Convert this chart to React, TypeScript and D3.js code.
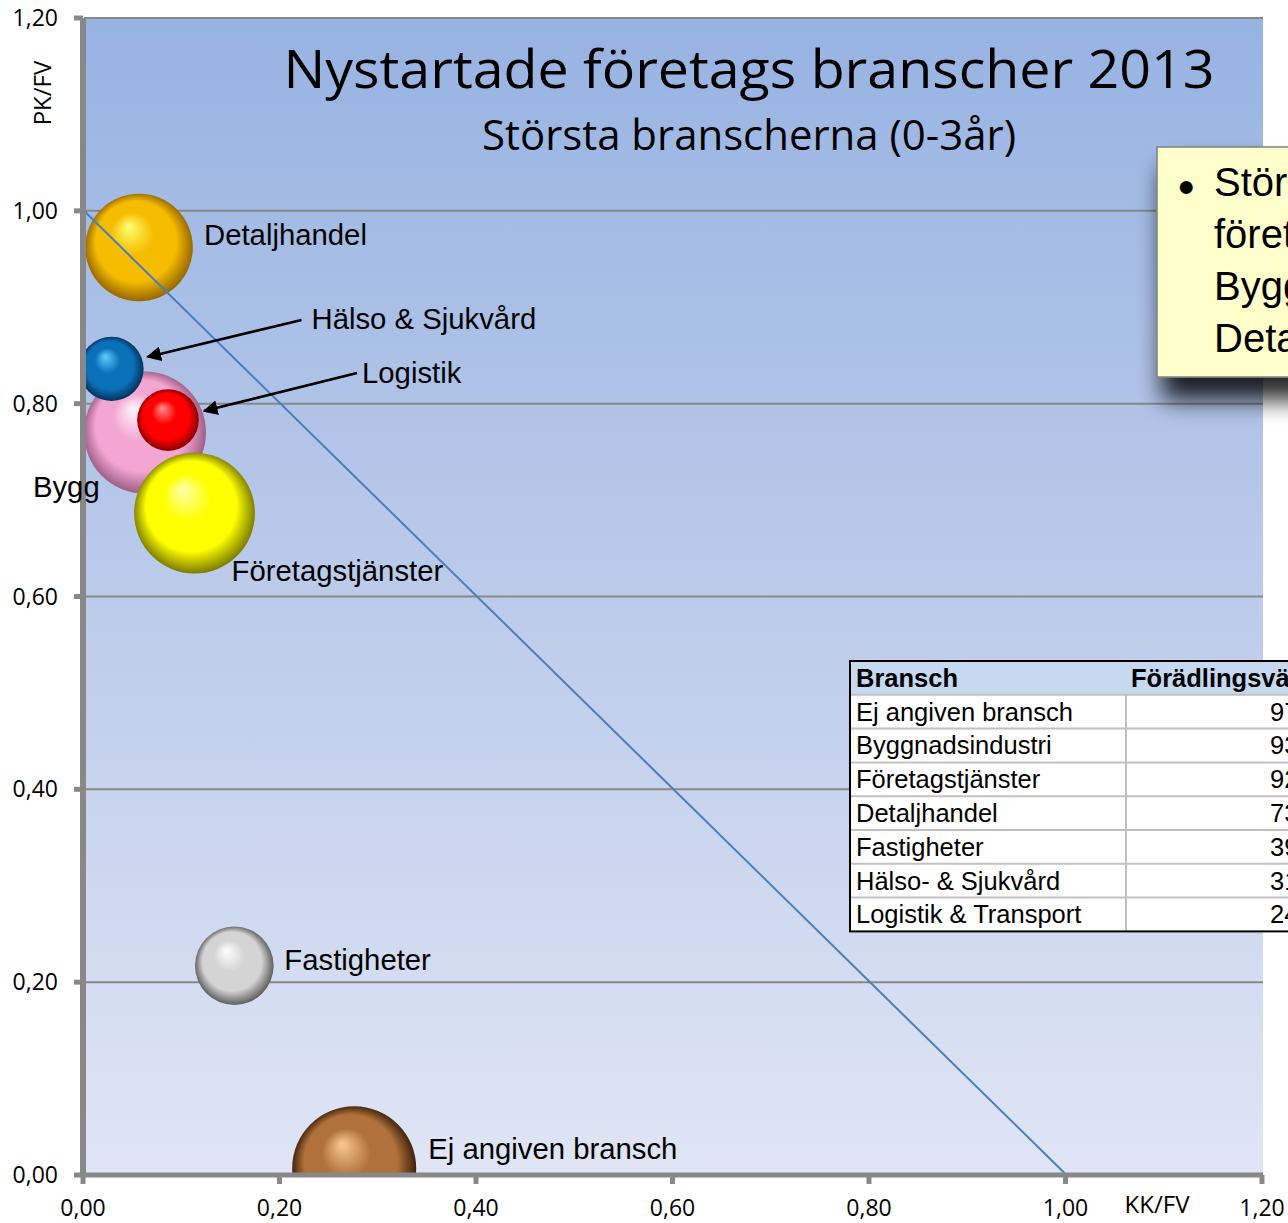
import React from "react";
import * as d3 from "d3";

// ---------- data ----------
const bubbleNames = ["Ej angiven bransch", "Bygg", "Företagstjänster", "Detaljhandel", "Fastigheter", "Hälso & Sjukvård", "Logistik"];
const kkFv = [0.275, 0.062, 0.1125, 0.056, 0.153, 0.028, 0.0855];
const pkFv = [0.007, 0.77, 0.6865, 0.962, 0.217, 0.836, 0.783];
const bubbleSize = [97, 94, 92, 73, 39, 26, 24];
const bubbleColors = [
  ["#fbc995", "#b0723a", "#2e1606"],
  ["#fff4fc", "#f3a6d1", "#94567e"],
  ["#ffffb0", "#ffff00", "#6e6e00"],
  ["#ffff70", "#f6bc00", "#8c5e00"],
  ["#ffffff", "#d4d4d4", "#505050"],
  ["#5ccfff", "#0a70b8", "#022c50"],
  ["#ff9090", "#ff0000", "#7a0000"],
];
// label placement (pixel offsets from bubble centre), arrows
const labelOffsets = [[74, -9], [-112, 64], [37, 68], [65, -2], [50, 4], [200, -40], [194, -37]];
const arrowFrom = [null, null, null, null, null, [190, -49], [189, -47]];
const arrowTo = [null, null, null, null, null, [36, -12], [36, -9]];

const axisTicks = [0, 0.2, 0.4, 0.6, 0.8, 1.0, 1.2];
const refLine = [[0, 1], [1, 0]];

const tableHeader = ["Bransch", "Förädlingsvärde"];
const tableCategories = ["Ej angiven bransch", "Byggnadsindustri", "Företagstjänster", "Detaljhandel", "Fastigheter", "Hälso- & Sjukvård", "Logistik & Transport"];
const tableValues = ["97 245", "93 512", "92 870", "73 516", "39 104", "31 962", "24 388"];

const noteLines = ["Största branscherna bland nystartade", "företag är Företagstjänster,", "Byggnadsindustri och", "Detaljhandel"];

const titleText = "Nystartade företags branscher 2013";
const subtitleText = "Största branscherna (0-3år)";

// ---------- layout ----------
const W = 1288, H = 1223;
const x = d3.scaleLinear().domain([0, 1.2]).range([84, 1263]);
const y = d3.scaleLinear().domain([0, 1.2]).range([1175, 18]);
const r = d3.scaleSqrt().domain([0, 97]).range([0, 62]);
const fmt = (v: number) => d3.format(".2f")(v).replace(".", ",");
const calibri = "'Open Sans', 'Noto Sans', sans-serif";
const arial = "'Liberation Sans', Arial, sans-serif";

export default function App() {
  const order = d3.range(bubbleNames.length).sort((a, b) => bubbleSize[b] - bubbleSize[a]);
  const line = d3.line<number[]>().x((d) => x(d[0])).y((d) => y(d[1]));
  const tblX = 850, tblY = 661, rowH = 33.8, colX = 1126;
  return (
    <svg width={W} height={H} style={{ position: "absolute", left: 0, top: 0, background: "#fff" }}>
      <defs>
        <linearGradient id="bg" x1="0" y1="0" x2="0" y2="1">
          <stop offset="0%" stopColor="#97b3e2" />
          <stop offset="50%" stopColor="#bccbea" />
          <stop offset="100%" stopColor="#dfe5f4" />
        </linearGradient>
        {bubbleColors.map((c, i) => (
          <radialGradient key={i} id={`ball${i}`} cx="0.5" cy="0.5" r="0.52" fx="0.4" fy="0.3">
            <stop offset="0%" stopColor={c[0]} />
            <stop offset="38%" stopColor={c[1]} />
            <stop offset="72%" stopColor={c[1]} />
            <stop offset="100%" stopColor={c[2]} />
          </radialGradient>
        ))}
        <clipPath id="plotClip">
          <rect x={x(0)} y={y(1.2)} width={x(1.2) - x(0)} height={y(0) - y(1.2)} />
        </clipPath>
        <marker id="arrow" viewBox="0 0 10 10" refX="9" refY="5" markerWidth="6" markerHeight="6" orient="auto-start-reverse" markerUnits="strokeWidth">
          <path d="M0,0 L10,5 L0,10 z" fill="#000" />
        </marker>
        <filter id="shadow" x="-20%" y="-20%" width="160%" height="180%">
          <feGaussianBlur in="SourceAlpha" stdDeviation="12" />
          <feOffset dx="6" dy="22" result="b" />
          <feComponentTransfer><feFuncA type="linear" slope="0.85" /></feComponentTransfer>
          <feMerge><feMergeNode /><feMergeNode in="SourceGraphic" /></feMerge>
        </filter>
      </defs>

      {/* plot area */}
      <rect x={x(0)} y={y(1.2)} width={x(1.2) - x(0)} height={y(0) - y(1.2)} fill="url(#bg)" />
      {axisTicks.slice(1).map((t) => (
        <line key={t} x1={x(0)} x2={x(1.2)} y1={y(t)} y2={y(t)} stroke="#888" strokeWidth={2} />
      ))}

      {/* bubbles */}
      <g clipPath="url(#plotClip)">
        {order.map((i) => (
          <circle key={i} cx={x(kkFv[i])} cy={y(pkFv[i])} r={r(bubbleSize[i])} fill={`url(#ball${i})`} />
        ))}
      </g>
      <path d={line(refLine) || ""} stroke="#4a7ebb" strokeWidth={2} fill="none" />

      {/* axes */}
      <line x1={83} x2={83} y1={y(1.2)} y2={y(0) + 2} stroke="#888" strokeWidth={6} />
      <line x1={83} x2={x(1.2)} y1={y(0)} y2={y(0)} stroke="#888" strokeWidth={5} />
      {axisTicks.map((t) => (
        <g key={t}>
          <line x1={74} x2={83} y1={y(t)} y2={y(t)} stroke="#888" strokeWidth={5} />
          <line x1={x(t) - 1} x2={x(t) - 1} y1={y(0)} y2={y(0) + 9} stroke="#888" strokeWidth={5} />
          <text x={58} y={y(t)} dy="0.35em" textAnchor="end" fontFamily={calibri} fontSize={23} fill="#000">{fmt(t)}</text>
          <text x={x(t) - 1} y={1208} dy="0.35em" textAnchor="middle" fontFamily={calibri} fontSize={23} fill="#000">{fmt(t)}</text>
        </g>
      ))}
      <text transform="translate(43,93) rotate(-90)" textAnchor="middle" dy="0.35em" fontFamily={calibri} fontSize={24} fill="#000">PK/FV</text>
      <text x={1157} y={1205} textAnchor="middle" dy="0.35em" fontFamily={calibri} fontSize={24} fill="#000">KK/FV</text>

      {/* titles */}
      <text x={749} y={88} textAnchor="middle" fontFamily={calibri} fontSize={53} textLength={931} lengthAdjust="spacingAndGlyphs" fill="#000">{titleText}</text>
      <text x={749} y={150} textAnchor="middle" fontFamily={calibri} fontSize={42} textLength={534} lengthAdjust="spacingAndGlyphs" fill="#000">{subtitleText}</text>

      {/* labels & arrows */}
      {bubbleNames.map((n, i) => {
        const cx = x(kkFv[i]), cy = y(pkFv[i]);
        const af = arrowFrom[i], at = arrowTo[i];
        return (
          <g key={n}>
            <text x={cx + labelOffsets[i][0]} y={cy + labelOffsets[i][1]} fontFamily={arial} fontSize={29.3} fill="#000">{n}</text>
            {af && at && (
              <line x1={cx + af[0]} y1={cy + af[1]} x2={cx + at[0]} y2={cy + at[1]} stroke="#000" strokeWidth={2.5} markerEnd="url(#arrow)" />
            )}
          </g>
        );
      })}

      {/* white strip right of plot */}
      <rect x={x(1.2) + 1} y={0} width={W - x(1.2)} height={1170} fill="#fff" />

      {/* note box */}
      <g filter="url(#shadow)">
        <rect x={1157} y={147} width={400} height={230} fill="#ffffcc" stroke="#7f7f7f" strokeWidth={1.5} />
      </g>
      <text x={1177} y={196} fontFamily={arial} fontSize={30} fill="#000">●</text>
      {noteLines.map((l, i) => (
        <text key={i} x={1214} y={196 + i * 52} fontFamily={arial} fontSize={40} fill="#000">{l}</text>
      ))}

      {/* table */}
      <g fontFamily={arial} fontSize={25.5} fill="#000">
        <rect x={tblX} y={tblY} width={500} height={rowH} fill="#c6d9f1" />
        <rect x={tblX} y={tblY + rowH} width={500} height={rowH * tableCategories.length} fill="#fff" />
        {tableCategories.map((c, i) => (
          <line key={c} x1={tblX} x2={W} y1={tblY + rowH * (i + 1)} y2={tblY + rowH * (i + 1)} stroke="#c0c0c0" strokeWidth={2} />
        ))}
        <line x1={colX} x2={colX} y1={tblY + rowH} y2={tblY + rowH * 8} stroke="#c0c0c0" strokeWidth={2} />
        <rect x={tblX} y={tblY} width={500} height={rowH * 8} fill="none" stroke="#000" strokeWidth={2} />
        <text x={856} y={tblY + rowH / 2} dy="0.35em" fontWeight="bold">{tableHeader[0]}</text>
        <text x={1131} y={tblY + rowH / 2} dy="0.35em" fontWeight="bold">{tableHeader[1]}</text>
        {tableCategories.map((c, i) => (
          <g key={c}>
            <text x={856} y={tblY + rowH * (i + 1.5)} dy="0.35em">{c}</text>
            <text x={1348} y={tblY + rowH * (i + 1.5)} dy="0.35em" textAnchor="end">{tableValues[i]}</text>
          </g>
        ))}
      </g>
    </svg>
  );
}
